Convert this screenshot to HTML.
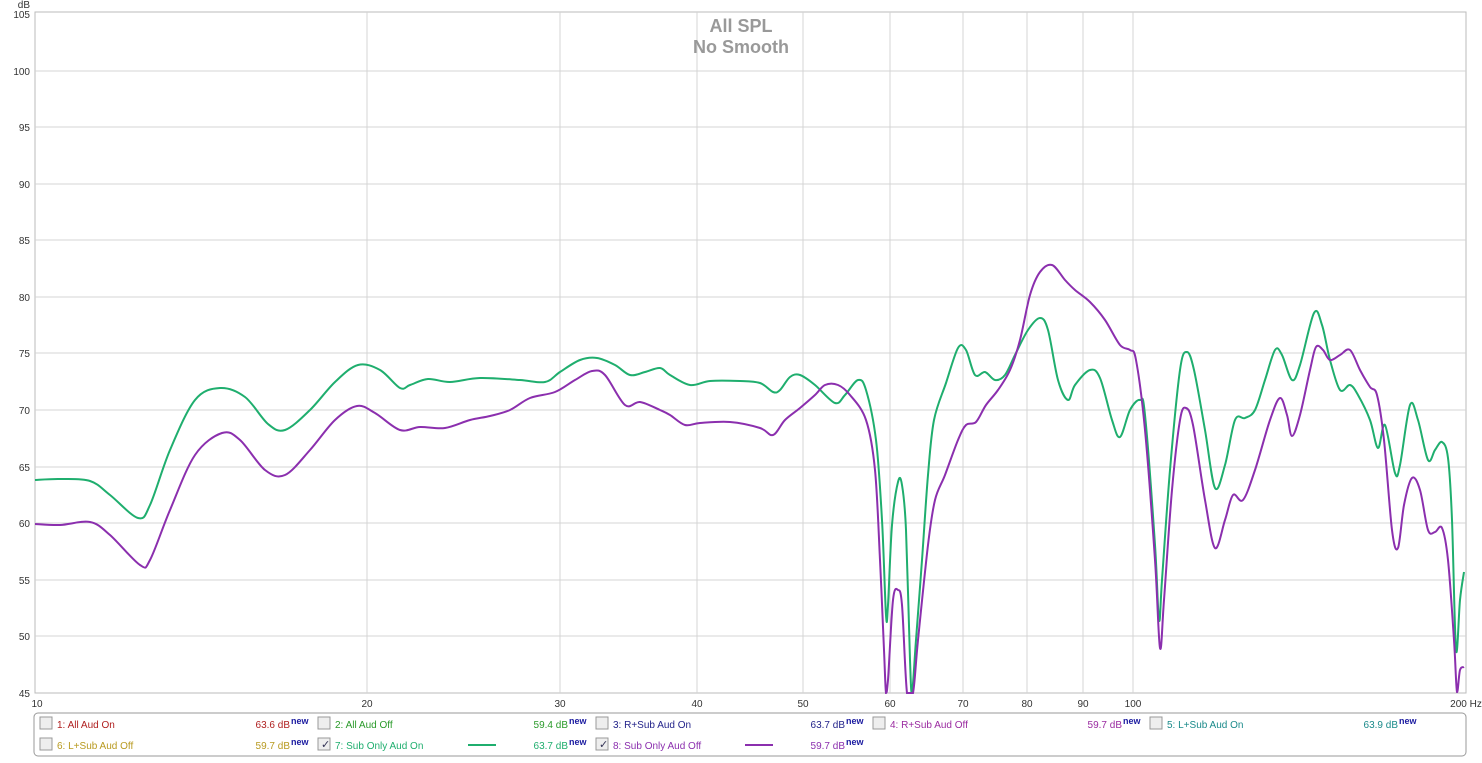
<!DOCTYPE html>
<html><head><meta charset="utf-8"><style>
body{margin:0;background:#fff;width:1482px;height:758px;overflow:hidden;font-family:"Liberation Sans",sans-serif}
svg text{font-family:"Liberation Sans",sans-serif}
</style></head><body>
<svg id="s" width="1482" height="758" xmlns="http://www.w3.org/2000/svg">
<rect x="35" y="12" width="1431" height="681" fill="#fff" stroke="#bbb"/>
<g stroke="#d4d4d4" stroke-width="1">
<line x1="35" x2="1466" y1="71" y2="71"/><line x1="35" x2="1466" y1="127" y2="127"/><line x1="35" x2="1466" y1="184" y2="184"/><line x1="35" x2="1466" y1="240" y2="240"/><line x1="35" x2="1466" y1="297" y2="297"/><line x1="35" x2="1466" y1="353" y2="353"/><line x1="35" x2="1466" y1="410" y2="410"/><line x1="35" x2="1466" y1="467" y2="467"/><line x1="35" x2="1466" y1="523" y2="523"/><line x1="35" x2="1466" y1="580" y2="580"/><line x1="35" x2="1466" y1="636" y2="636"/>
<line x1="367" x2="367" y1="12" y2="693"/><line x1="560" x2="560" y1="12" y2="693"/><line x1="697" x2="697" y1="12" y2="693"/><line x1="803" x2="803" y1="12" y2="693"/><line x1="890" x2="890" y1="12" y2="693"/><line x1="963" x2="963" y1="12" y2="693"/><line x1="1027" x2="1027" y1="12" y2="693"/><line x1="1083" x2="1083" y1="12" y2="693"/><line x1="1133" x2="1133" y1="12" y2="693"/>
</g>
<g font-size="10" fill="#333" text-anchor="end">
<text x="30" y="8">dB</text>
<text x="30" y="18">105</text><text x="30" y="75">100</text><text x="30" y="131">95</text><text x="30" y="188">90</text><text x="30" y="244">85</text><text x="30" y="301">80</text><text x="30" y="357">75</text><text x="30" y="414">70</text><text x="30" y="471">65</text><text x="30" y="527">60</text><text x="30" y="584">55</text><text x="30" y="640">50</text><text x="30" y="697">45</text>
</g>
<g font-size="10" fill="#333" text-anchor="middle">
<text x="37" y="707">10</text><text x="367" y="707">20</text><text x="560" y="707">30</text><text x="697" y="707">40</text><text x="803" y="707">50</text><text x="890" y="707">60</text><text x="963" y="707">70</text><text x="1027" y="707">80</text><text x="1083" y="707">90</text><text x="1133" y="707">100</text><text x="1466" y="707">200 Hz</text>
</g>
<text x="741" y="32" font-size="18" font-weight="bold" fill="#999" text-anchor="middle">All SPL</text>
<text x="741" y="53" font-size="18" font-weight="bold" fill="#999" text-anchor="middle">No Smooth</text>
<polyline class="c" fill="none" stroke="#1fae6e" stroke-width="2" stroke-linejoin="round" points="35,480 60,479 90,481 110,495 138,518 150,505 170,450 195,400 220,388 245,397 268,424 285,430 310,410 335,382 358,365 380,370 400,388 410,385 428,379 450,382 480,378 520,380 545,382 560,372 580,360 597,358 615,365 630,375 645,372 660,368 670,375 690,385 710,381 740,381 760,383 773,392 780,390 790,377 800,375 815,385 835,403 845,395 858,380 866,390 876,440 882,520 886,615 888,605 892,525 898,482 902,485 906,530 910,660 912,693 916,640 922,560 928,475 934,420 946,383 958,348 966,350 975,375 985,372 995,380 1005,375 1015,355 1028,330 1040,318 1048,330 1058,380 1068,400 1075,385 1090,370 1100,378 1112,420 1120,437 1130,410 1140,400 1145,415 1155,545 1159,620 1162,580 1170,470 1180,370 1187,352 1194,370 1205,430 1215,488 1225,465 1235,420 1245,418 1255,410 1265,380 1275,350 1282,355 1292,380 1300,365 1314,313 1322,325 1330,360 1340,390 1350,385 1358,395 1370,420 1378,448 1385,425 1395,473 1400,465 1410,405 1418,420 1428,460 1435,450 1442,442 1448,458 1452,520 1456,650 1460,600 1464,572"/>
<polyline class="c" fill="none" stroke="#8b2fae" stroke-width="2" stroke-linejoin="round" points="35,524 60,525 90,522 110,535 140,565 150,560 170,510 195,455 222,433 240,440 265,470 285,475 310,450 335,420 357,406 375,413 400,430 420,427 445,428 470,420 490,416 510,410 530,398 555,392 575,380 592,371 605,375 625,405 640,402 660,410 670,415 685,425 700,423 730,422 760,428 773,435 785,420 800,408 815,395 825,385 838,385 850,395 866,420 875,470 880,560 884,650 886,693 888,680 893,600 898,590 902,605 907,693 913,693 918,640 928,545 935,500 945,475 958,440 966,425 976,422 986,405 998,390 1010,370 1020,340 1030,295 1040,272 1052,265 1065,280 1075,290 1090,302 1105,320 1120,345 1130,350 1136,360 1145,430 1155,560 1160,648 1164,600 1172,490 1180,420 1186,408 1193,425 1205,500 1215,548 1225,520 1233,495 1243,500 1255,470 1270,420 1280,398 1287,415 1292,436 1300,415 1310,370 1316,347 1323,350 1330,360 1340,355 1350,350 1360,370 1370,387 1377,395 1384,440 1392,530 1398,548 1404,505 1412,478 1420,490 1428,530 1435,532 1442,528 1448,560 1454,640 1457,692 1460,670 1464,667"/>
<rect x="34" y="713" width="1432" height="43" rx="4" fill="#fff" stroke="#999"/>
<g font-size="10">
<g fill="#eee" stroke="#999"><rect x="40" y="717" width="12" height="12"/><rect x="318" y="717" width="12" height="12"/><rect x="596" y="717" width="12" height="12"/><rect x="873" y="717" width="12" height="12"/><rect x="1150" y="717" width="12" height="12"/><rect x="40" y="738" width="12" height="12"/><rect x="318" y="738" width="12" height="12"/><rect x="596" y="738" width="12" height="12"/></g>
<text x="321" y="748" fill="#335" font-size="11">✓</text><text x="599" y="748" fill="#335" font-size="11">✓</text>
<text x="57" y="728" fill="#b02020">1: All Aud On</text><text x="290" y="728" fill="#b02020" text-anchor="end">63.6 dB</text>
<text x="335" y="728" fill="#2a9a2a">2: All Aud Off</text><text x="568" y="728" fill="#2a9a2a" text-anchor="end">59.4 dB</text>
<text x="613" y="728" fill="#23238a">3: R+Sub Aud On</text><text x="845" y="728" fill="#23238a" text-anchor="end">63.7 dB</text>
<text x="890" y="728" fill="#9a2aa0">4: R+Sub Aud Off</text><text x="1122" y="728" fill="#9a2aa0" text-anchor="end">59.7 dB</text>
<text x="1167" y="728" fill="#1a8a8a">5: L+Sub Aud On</text><text x="1398" y="728" fill="#1a8a8a" text-anchor="end">63.9 dB</text>
<text x="57" y="749" fill="#b89a20">6: L+Sub Aud Off</text><text x="290" y="749" fill="#b89a20" text-anchor="end">59.7 dB</text>
<text x="335" y="749" fill="#1fae6e">7: Sub Only Aud On</text><text x="568" y="749" fill="#1fae6e" text-anchor="end">63.7 dB</text>
<text x="613" y="749" fill="#8b2fae">8: Sub Only Aud Off</text><text x="845" y="749" fill="#8b2fae" text-anchor="end">59.7 dB</text>
<line x1="468" x2="496" y1="745" y2="745" stroke="#1fae6e" stroke-width="2"/>
<line x1="745" x2="773" y1="745" y2="745" stroke="#8b2fae" stroke-width="2"/>
<g fill="#1a1aa0" font-weight="bold" font-size="9"><text x="291" y="724">new</text><text x="569" y="724">new</text><text x="846" y="724">new</text><text x="1123" y="724">new</text><text x="1399" y="724">new</text><text x="291" y="745">new</text><text x="569" y="745">new</text><text x="846" y="745">new</text></g>
</g>
</svg>
<script>
document.querySelectorAll('polyline.c').forEach(function(pl){
 var p=pl.getAttribute('points').trim().split(/\s+/).map(function(s){var a=s.split(',');return[+a[0],+a[1]];});
 var d='M'+p[0][0]+','+p[0][1];
 for(var i=0;i<p.length-1;i++){
  var p0=p[i-1]||p[i],p1=p[i],p2=p[i+1],p3=p[i+2]||p2;
  var c1x=p1[0]+(p2[0]-p0[0])/6,c1y=p1[1]+(p2[1]-p0[1])/6,c2x=p2[0]-(p3[0]-p1[0])/6,c2y=p2[1]-(p3[1]-p1[1])/6;
  c1y=Math.min(c1y,693);c2y=Math.min(c2y,693);
  d+='C'+c1x.toFixed(1)+','+c1y.toFixed(1)+' '+c2x.toFixed(1)+','+c2y.toFixed(1)+' '+p2[0]+','+p2[1];
 }
 var path=document.createElementNS('http://www.w3.org/2000/svg','path');
 path.setAttribute('d',d);path.setAttribute('fill','none');path.setAttribute('stroke',pl.getAttribute('stroke'));path.setAttribute('stroke-width','2');
 pl.parentNode.replaceChild(path,pl);
});
</script>
</body></html>
